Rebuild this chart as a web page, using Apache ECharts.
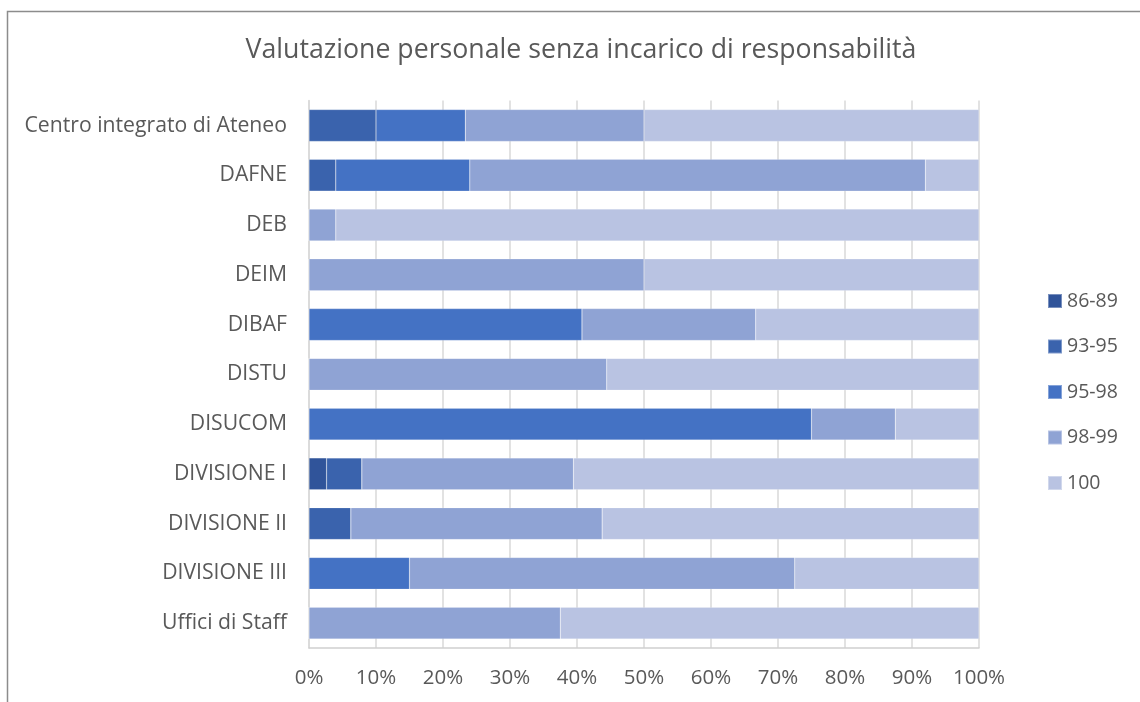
<!DOCTYPE html>
<html>
<head>
<meta charset="utf-8">
<script src="https://cdn.jsdelivr.net/npm/echarts@6/dist/echarts.min.js"></script>
<style>
html,body{margin:0;padding:0;background:#fff;}
#chart{width:1140px;height:702px;}
</style>
</head>
<body>
<div id="chart"></div>
<script>
const categories = ["Centro integrato di Ateneo","DAFNE","DEB","DEIM","DIBAF","DISTU","DISUCOM","DIVISIONE I","DIVISIONE II","DIVISIONE III","Uffici di Staff"];
const seriesNames = ["86-89","93-95","95-98","98-99","100"];
const v86_89  = [0,    0, 0, 0,  0,     0,    0,    2.63, 0,    0,    0];
const v93_95  = [10,   4, 0, 0,  0,     0,    0,    5.26, 6.25, 0,    0];
const v95_98  = [13.33,20,0, 0,  40.74, 0,    75,   0,    0,    15,   0];
const v98_99  = [26.67,68,4, 50, 25.93, 44.44,12.5, 31.58,37.5, 57.5, 37.5];
const v100    = [50,   8, 96,50, 33.33, 55.56,12.5, 60.53,56.25,27.5, 62.5];
const xTicks = [0,10,20,30,40,50,60,70,80,90,100];
const colors = ["#30549a","#3a63ad","#4472c4","#8fa3d4","#b9c3e2"];

const allValues = [v86_89, v93_95, v95_98, v98_99, v100];
const font = "'Open Sans', 'Noto Sans', sans-serif";

const chart = echarts.init(document.getElementById('chart'));
chart.setOption({
  animation: false,
  graphic: [{
    type: 'rect', silent: true,
    shape: {x: 7.5, y: 11.5, width: 1200, height: 800},
    style: {fill: 'none', stroke: '#8c8c8c', lineWidth: 1.5}
  }],
  title: {
    text: 'Valutazione personale senza incarico di responsabilità',
    left: 576, top: 32, textAlign: 'center',
    textStyle: {fontFamily: font, fontSize: 26.7, fontWeight: 'normal', color: '#595959'}
  },
  legend: {
    orient: 'vertical', left: 1047, top: 291, padding: 0,
    itemWidth: 14, itemHeight: 14, itemGap: 25.5,
    icon: 'rect',
    data: seriesNames,
    textStyle: {fontFamily: font, fontSize: 19.5, color: '#595959', lineHeight: 18, padding: [0,0,0,0]}
  },
  grid: {left: 309, right: 1140-979, top: 100.6, bottom: 702-648, containLabel: false},
  xAxis: {
    type: 'value', min: 0, max: 100, interval: 10,
    axisLine: {show: true, lineStyle: {color: '#d0d0d0', width: 1.5}},
    axisTick: {show: false},
    splitLine: {show: true, lineStyle: {color: '#d9d9d9', width: 1.5}},
    axisLabel: {
      fontFamily: font, fontSize: 20.5, color: '#595959', margin: 20,
      formatter: v => xTicks.includes(v) ? v + '%' : ''
    }
  },
  yAxis: {
    type: 'category', data: categories, inverse: true,
    axisLine: {show: true, lineStyle: {color: '#d9d9d9', width: 1.5}},
    axisTick: {show: false},
    axisLabel: {fontFamily: font, fontSize: 21.2, color: '#595959', margin: 22}
  },
  series: seriesNames.map((name, i) => ({
    name: name, type: 'bar', stack: 'total',
    barWidth: '64%',
    itemStyle: {color: colors[i], borderColor: 'rgba(255,255,255,0.35)', borderWidth: 0.5},
    data: allValues[i]
  }))
});
</script>
</body>
</html>
